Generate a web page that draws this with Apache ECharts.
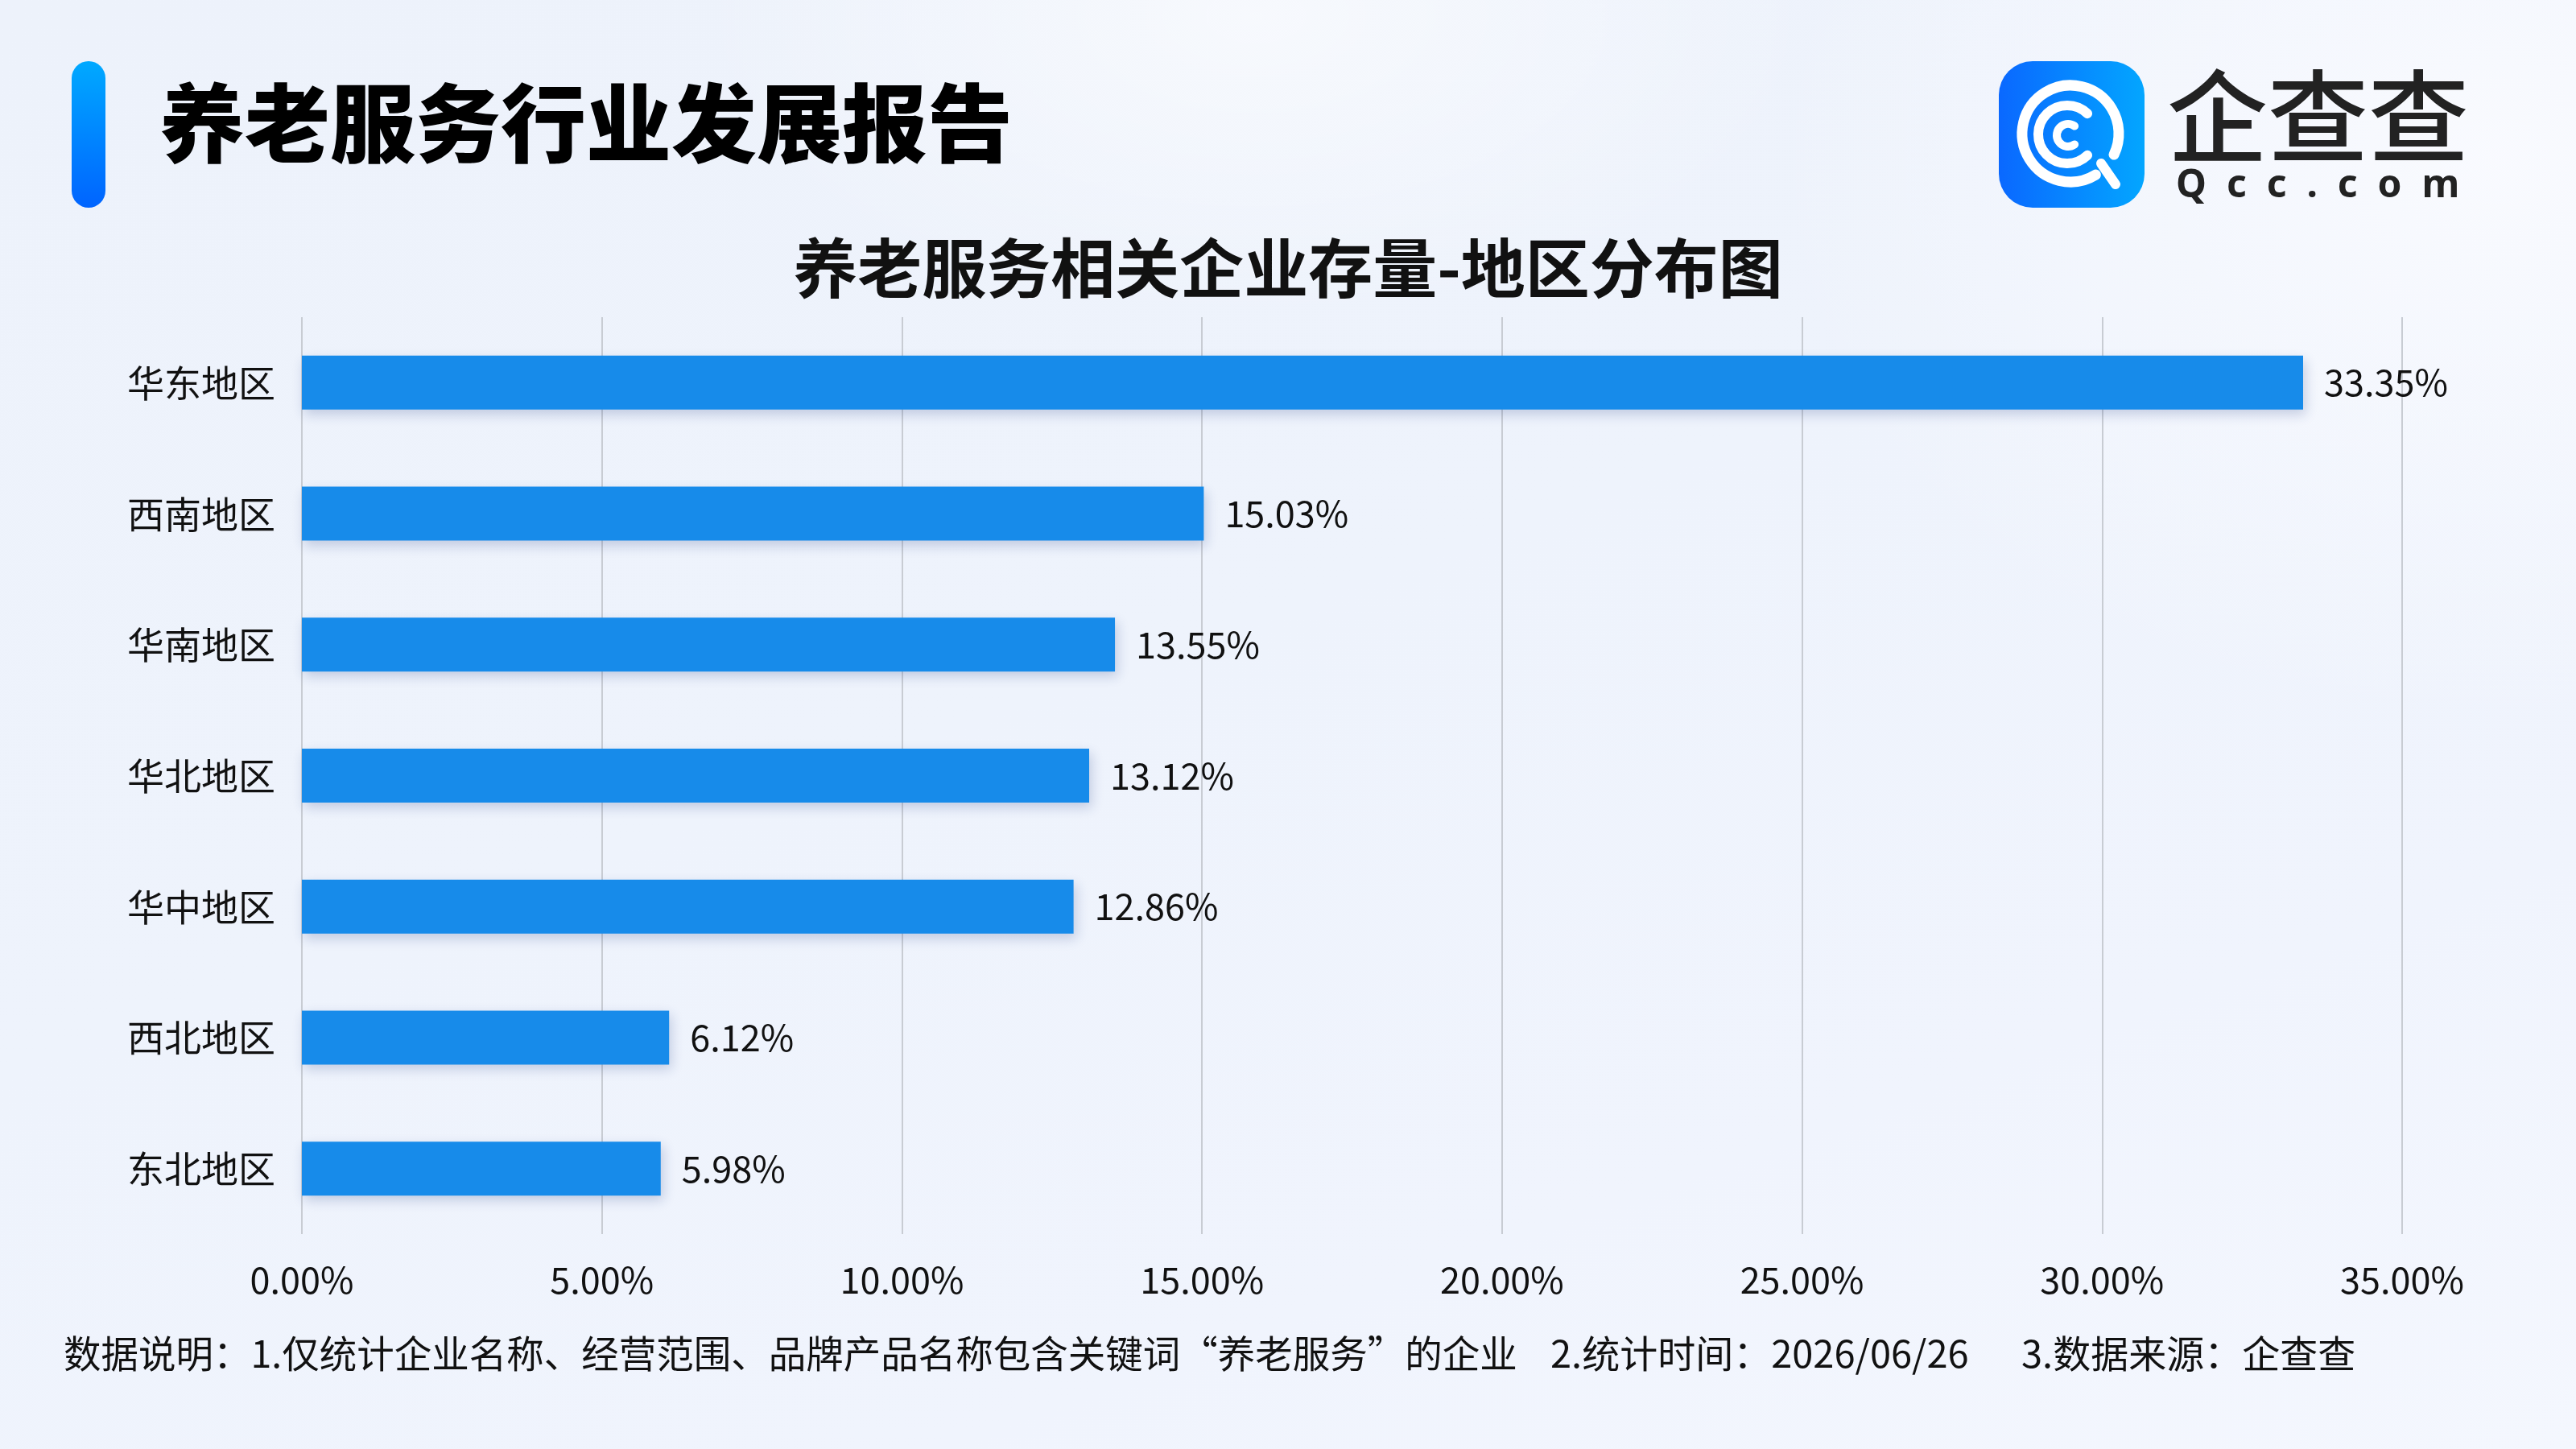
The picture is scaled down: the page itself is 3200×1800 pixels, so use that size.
<!DOCTYPE html>
<html>
<head>
<meta charset="utf-8">
<script src="https://cdn.jsdelivr.net/npm/echarts@6/dist/echarts.min.js"></script>
<style>
html,body{margin:0;padding:0;width:3200px;height:1800px;overflow:hidden;}
body{
  background:
    radial-gradient(ellipse 700px 380px at 1560px 20px, rgba(255,255,255,0.55), rgba(255,255,255,0) 100%),
    radial-gradient(ellipse 900px 700px at 3100px 200px, rgba(250,251,255,0.9), rgba(250,251,255,0) 100%),
    linear-gradient(160deg, #edf2fb 0%, #eef3fc 45%, #f0f4fd 75%, #f4f7fe 100%);
}
#chart{width:3200px;height:1800px;}
</style>
</head>
<body>
<div id="chart"></div>
<script>
var categories = ['华东地区','西南地区','华南地区','华北地区','华中地区','西北地区','东北地区'];
var shares = [33.35, 15.03, 13.55, 13.12, 12.86, 6.12, 5.98];
var xTicks = [0, 5, 10, 15, 20, 25, 30, 35];
var headerTitle = '养老服务行业发展报告';
var chartTitle = '养老服务相关企业存量-地区分布图';
var notes = ['数据说明：1.仅统计企业名称、经营范围、品牌产品名称包含关键词“养老服务”的企业', '2.统计时间：2026/06/26', '3.数据来源：企查查'];
var brandName = '企查查';
var brandSite = 'Q  c  c  .  c  o  m';

var FONT = '"Noto Sans CJK SC", "Noto Sans", sans-serif';
var chart = echarts.init(document.getElementById('chart'), null, {renderer:'canvas'});

var logoCx = 2572, logoCy = 166;
var option = {
  backgroundColor: 'transparent',
  animation: false,
  textStyle: {fontFamily: FONT},
  grid: {left: 375, right: 216, top: 394, bottom: 267, containLabel: false},
  xAxis: {
    type: 'value',
    min: xTicks[0],
    max: xTicks[xTicks.length-1],
    interval: xTicks[1]-xTicks[0],
    axisLine: {show:false},
    axisTick: {show:false},
    axisLabel: {
      fontSize: 45, color: '#111', margin: 34, fontFamily: FONT,
      formatter: function(v){ return v.toFixed(2) + '%'; }
    },
    splitLine: {show:true, lineStyle:{color:'#c8ccd3', width:2}}
  },
  yAxis: {
    type: 'category',
    data: categories,
    inverse: true,
    axisLine: {show:false},
    axisTick: {show:false},
    axisLabel: {fontSize: 46, color: '#111', margin: 33, fontFamily: FONT, padding:[0,0,8,0]},
    splitLine: {show:false}
  },
  series: [{
    type: 'bar',
    data: shares,
    barWidth: 67,
    itemStyle: {
      color: '#178BEA',
      shadowColor: 'rgba(30,60,130,0.22)',
      shadowBlur: 14,
      shadowOffsetX: 3,
      shadowOffsetY: 6
    },
    label: {
      show: true,
      position: 'right',
      distance: 26,
      fontSize: 45,
      color: '#111',
      fontFamily: FONT,
      padding:[0,0,6,0],
      formatter: function(p){ return p.value.toFixed(2) + '%'; }
    }
  }],
  graphic: [
    {type:'rect', shape:{x:89, y:76, width:42, height:182, r:21},
     style:{fill:new echarts.graphic.LinearGradient(0,0,0,1,[{offset:0,color:'#00a9ff'},{offset:1,color:'#0064ff'}])}},
    {type:'text', left:198, top:100, style:{text:headerTitle, font:'900 106px ' + FONT, fill:'#000'}},
    {type:'text', x:1600, y:333, style:{text:chartTitle, font:'bold 80px ' + FONT, fill:'#111', align:'center', verticalAlign:'middle'}},
    // logo icon
    {type:'rect', shape:{x:2483, y:76, width:181, height:182, r:42},
     style:{fill:new echarts.graphic.LinearGradient(0,0,1,0,[{offset:0,color:'#0a68ff'},{offset:1,color:'#03a6ff'}])}},
    {type:'arc', shape:{cx:logoCx, cy:logoCy, r:60, startAngle:1.02, endAngle:Math.PI*2+0.45, clockwise:true},
     style:{stroke:'#fff', lineWidth:13, fill:null, lineCap:'round'}},
    {type:'line', shape:{x1:2610, y1:203, x2:2628, y2:229}, style:{stroke:'#fff', lineWidth:12, lineCap:'round'}},
    {type:'arc', shape:{cx:logoCx-4, cy:logoCy+1, r:36, startAngle:0.8, endAngle:Math.PI*2-0.8, clockwise:true},
     style:{stroke:'#fff', lineWidth:12, fill:null, lineCap:'round'}},
    {type:'arc', shape:{cx:logoCx-3, cy:logoCy+2, r:14, startAngle:0.95, endAngle:Math.PI*2-0.95, clockwise:true},
     style:{stroke:'#fff', lineWidth:10, fill:null, lineCap:'round'}},
    {type:'text', x:2692, y:144, style:{text:brandName, font:'500 125px ' + FONT, fill:'#222', verticalAlign:'middle'}},
    {type:'text', x:2703, y:231, style:{text:brandSite, font:'bold 48px "Noto Sans", sans-serif', fill:'#222', verticalAlign:'middle'}},
    // notes
    {type:'text', x:79, y:1681, style:{text:notes[0], font:'46.5px ' + FONT, fill:'#111', verticalAlign:'middle'}},
    {type:'text', x:1926, y:1681, style:{text:notes[1], font:'47px ' + FONT, fill:'#111', verticalAlign:'middle'}},
    {type:'text', x:2511, y:1681, style:{text:notes[2], font:'47px ' + FONT, fill:'#111', verticalAlign:'middle'}}
  ]
};
chart.setOption(option);
</script>
</body>
</html>
